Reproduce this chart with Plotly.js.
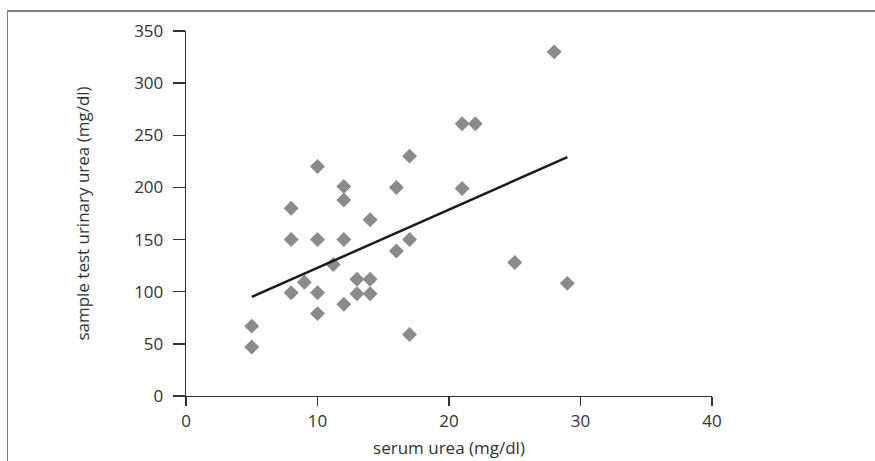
<!DOCTYPE html>
<html>
<head>
<meta charset="utf-8">
<script src="https://cdn.plot.ly/plotly-3.0.1.min.js"></script>
<style>
html,body{margin:0;padding:0;background:#fff;}
#frame{position:absolute;left:7px;top:10px;width:868px;height:451px;border-left:1.5px solid #7d7d7d;border-top:2px solid #7d7d7d;box-sizing:border-box;}
#chart{position:absolute;left:0;top:0;width:875px;height:461px;}
</style>
</head>
<body>
<div id="frame"></div>
<div id="chart"></div>
<script>
// serum urea (mg/dl)
const serumUrea = [10, 17, 12, 16, 12, 8, 14, 8, 10, 12, 17, 16, 11.2, 9, 13, 14, 8, 10, 13, 14, 12, 10, 5, 5, 17, 28, 21, 22, 21, 25, 29];
// sample test urinary urea (mg/dl)
const urinaryUrea = [220, 230, 201, 200, 188, 180, 169, 150, 150, 150, 150, 139, 126, 109, 112, 112, 99, 99, 98, 98, 88, 79, 67, 47, 59, 330, 261, 261, 199, 128, 108];
// fitted trend line end points
const fitX = [5, 29];
const fitY = [95, 229];
const xTicks = [0, 10, 20, 30, 40];
const yTicks = [0, 50, 100, 150, 200, 250, 300, 350];

const fontFam = '"Open Sans", sans-serif';

const traces = [
  {
    x: serumUrea, y: urinaryUrea, type: 'scatter', mode: 'markers',
    marker: {symbol: 'diamond', size: 11.5, color: '#8b8b8e', line: {width: 0}},
    hoverinfo: 'x+y', showlegend: false
  },
  {
    x: fitX, y: fitY, type: 'scatter', mode: 'lines',
    line: {color: '#1c1c1c', width: 2.5},
    showlegend: false
  }
];

const layout = {
  width: 875, height: 461,
  margin: {l: 186, r: 163, t: 31, b: 64.5, pad: 0},
  paper_bgcolor: 'rgba(0,0,0,0)',
  plot_bgcolor: 'rgba(0,0,0,0)',
  font: {family: fontFam, color: '#333', size: 17},
  xaxis: {
    range: [0, 40], tickvals: xTicks, ticktext: xTicks.map(String),
    showgrid: false, zeroline: false, showline: true, linecolor: '#333', linewidth: 1.3,
    ticks: 'outside', ticklen: 9, tickwidth: 1.3, tickcolor: '#333',
    tickfont: {size: 17, color: '#333'},
    title: {text: 'serum urea (mg/dl)', font: {size: 17, color: '#333'}, standoff: 11}
  },
  yaxis: {
    range: [0, 350], tickvals: yTicks, ticktext: yTicks.map(String),
    showgrid: false, zeroline: false, showline: true, linecolor: '#333', linewidth: 1.3,
    ticks: 'outside', ticklen: 12, tickwidth: 1.3, tickcolor: '#333',
    ticklabelstandoff: 6,
    tickfont: {size: 17, color: '#333'},
    title: {text: 'sample test urinary urea (mg/dl)', font: {size: 17, color: '#333'}, standoff: 40}
  }
};

Plotly.newPlot('chart', traces, layout, {staticPlot: true, displayModeBar: false});
</script>
</body>
</html>
